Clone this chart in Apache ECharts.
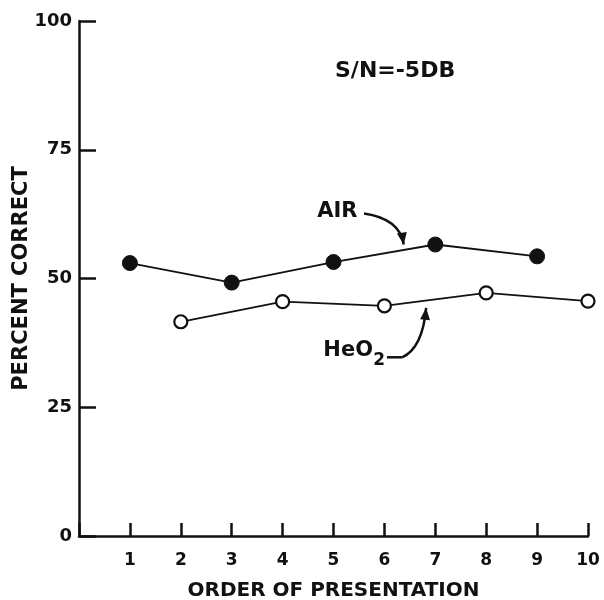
<!DOCTYPE html>
<html>
<head>
<meta charset="utf-8">
<script src="https://cdn.jsdelivr.net/npm/echarts@6/dist/echarts.min.js"></script>
<style>html,body{margin:0;padding:0;background:#fff;}#c{width:604px;height:600px;}</style>
</head>
<body>
<div id="c"></div>
<script>
// Data
const airOrder = [1, 3, 5, 7, 9];
const airPercent = [53.0, 49.2, 53.2, 56.6, 54.3];
const heo2Order = [2, 4, 6, 8, 10];
const heo2Percent = [41.6, 45.5, 44.7, 47.2, 45.6];
const xTicks = [1, 2, 3, 4, 5, 6, 7, 8, 9, 10];
const yTicks = [0, 25, 50, 75, 100];

const FONT = 'DejaVu Sans';
const chart = echarts.init(document.getElementById('c'), null, {renderer: 'canvas'});

const pair = (xs, ys) => xs.map((x, i) => [x, ys[i]]);

chart.setOption({
  animation: false,
  backgroundColor: '#fff',
  grid: {left: 79, right: 16, top: 21, bottom: 64, containLabel: false, outerBoundsMode: 'none'},
  xAxis: {
    type: 'value', min: 0, max: 10, interval: 1,
    name: 'ORDER OF PRESENTATION', nameLocation: 'middle', nameGap: 45,
    nameTextStyle: {fontFamily: FONT, fontSize: 20, fontWeight: 'bold', color: '#111'},
    axisLine: {show: true, lineStyle: {color: '#111', width: 2.5}},
    axisTick: {show: true, inside: true, length: 13, lineStyle: {color: '#111', width: 2.5}},
    axisLabel: {
      fontFamily: FONT, fontSize: 17, fontWeight: 'bold', color: '#111', margin: 16,
      formatter: v => xTicks.includes(v) ? String(v) : ''
    },
    splitLine: {show: false}
  },
  yAxis: {
    type: 'value', min: 0, max: 100, interval: 25,
    name: 'PERCENT CORRECT', nameLocation: 'middle', nameGap: 47, nameMoveOverlap: false,
    nameTextStyle: {fontFamily: FONT, fontSize: 21, fontWeight: 'bold', color: '#111'},
    axisLine: {show: true, lineStyle: {color: '#111', width: 2.5}},
    axisTick: {show: true, inside: true, length: 17, lineStyle: {color: '#111', width: 2.5}},
    axisLabel: {
      fontFamily: FONT, fontSize: 18, fontWeight: 'bold', color: '#111', margin: 7,
      formatter: v => yTicks.includes(v) ? String(v) : ''
    },
    splitLine: {show: false}
  },
  series: [
    {
      name: 'AIR', type: 'line', data: pair(airOrder, airPercent),
      symbol: 'circle', symbolSize: 15,
      lineStyle: {color: '#111', width: 1.8},
      itemStyle: {color: '#111', borderColor: '#111', borderWidth: 1}
    },
    {
      name: 'HeO2', type: 'line', data: pair(heo2Order, heo2Percent),
      symbol: 'circle', symbolSize: 13,
      lineStyle: {color: '#111', width: 1.8},
      itemStyle: {color: '#fff', borderColor: '#111', borderWidth: 2.2}
    }
  ]
});

// Annotations placed in data coordinates
const px = (x, y) => chart.convertToPixel({gridIndex: 0}, [x, y]);

function arrowHead(tip, from, len, half) {
  const dx = tip[0] - from[0], dy = tip[1] - from[1];
  const d = Math.hypot(dx, dy);
  const ux = dx / d, uy = dy / d;
  const bx = tip[0] - ux * len, by = tip[1] - uy * len;
  return [tip, [bx - uy * half, by + ux * half], [bx + uy * half, by - ux * half]];
}

const airTextPos = px(4.68, 62.9);   // left edge / center of "AIR"
const airStart = px(5.6, 62.6), airCtrl = px(6.3, 61.6), airEnd = px(6.38, 56.6);
const heTextPos = px(4.8, 35.8);    // left edge / center of "HeO"
const heStart = px(6.05, 34.7), heMid = px(6.35, 34.7), heCtrl = px(6.75, 36.5), heEnd = px(6.82, 44.3);

chart.setOption({
  graphic: [
    {type: 'text', left: airTextPos[0], top: airTextPos[1] - 11,
     style: {text: 'AIR', fontFamily: FONT, fontSize: 21, fontWeight: 'bold', fill: '#111'}},
    {type: 'text', left: heTextPos[0], top: heTextPos[1] - 12,
     style: {text: 'HeO', fontFamily: FONT, fontSize: 21, fontWeight: 'bold', fill: '#111'}},
    {type: 'text', left: heTextPos[0] + 50, top: heTextPos[1],
     style: {text: '2', fontFamily: FONT, fontSize: 17, fontWeight: 'bold', fill: '#111'}},
    {type: 'bezierCurve',
     shape: {x1: airStart[0], y1: airStart[1], x2: airEnd[0], y2: airEnd[1], cpx1: airCtrl[0], cpy1: airCtrl[1]},
     style: {stroke: '#111', lineWidth: 2.5, fill: null}},
    {type: 'polygon', shape: {points: arrowHead(airEnd, airCtrl, 12, 5)}, style: {fill: '#111'}},
    {type: 'polyline', shape: {points: [heStart, heMid]}, style: {stroke: '#111', lineWidth: 2.5}},
    {type: 'bezierCurve',
     shape: {x1: heMid[0], y1: heMid[1], x2: heEnd[0], y2: heEnd[1], cpx1: heCtrl[0], cpy1: heCtrl[1]},
     style: {stroke: '#111', lineWidth: 2.5, fill: null}},
    {type: 'polygon', shape: {points: arrowHead(heEnd, heCtrl, 12, 5)}, style: {fill: '#111'}},
    {type: 'text', left: 335, top: 60,
     style: {text: 'S/N=-5DB', fontFamily: FONT, fontSize: 22, fontWeight: 'bold', fill: '#111'}}
  ]
});
</script>
</body>
</html>
